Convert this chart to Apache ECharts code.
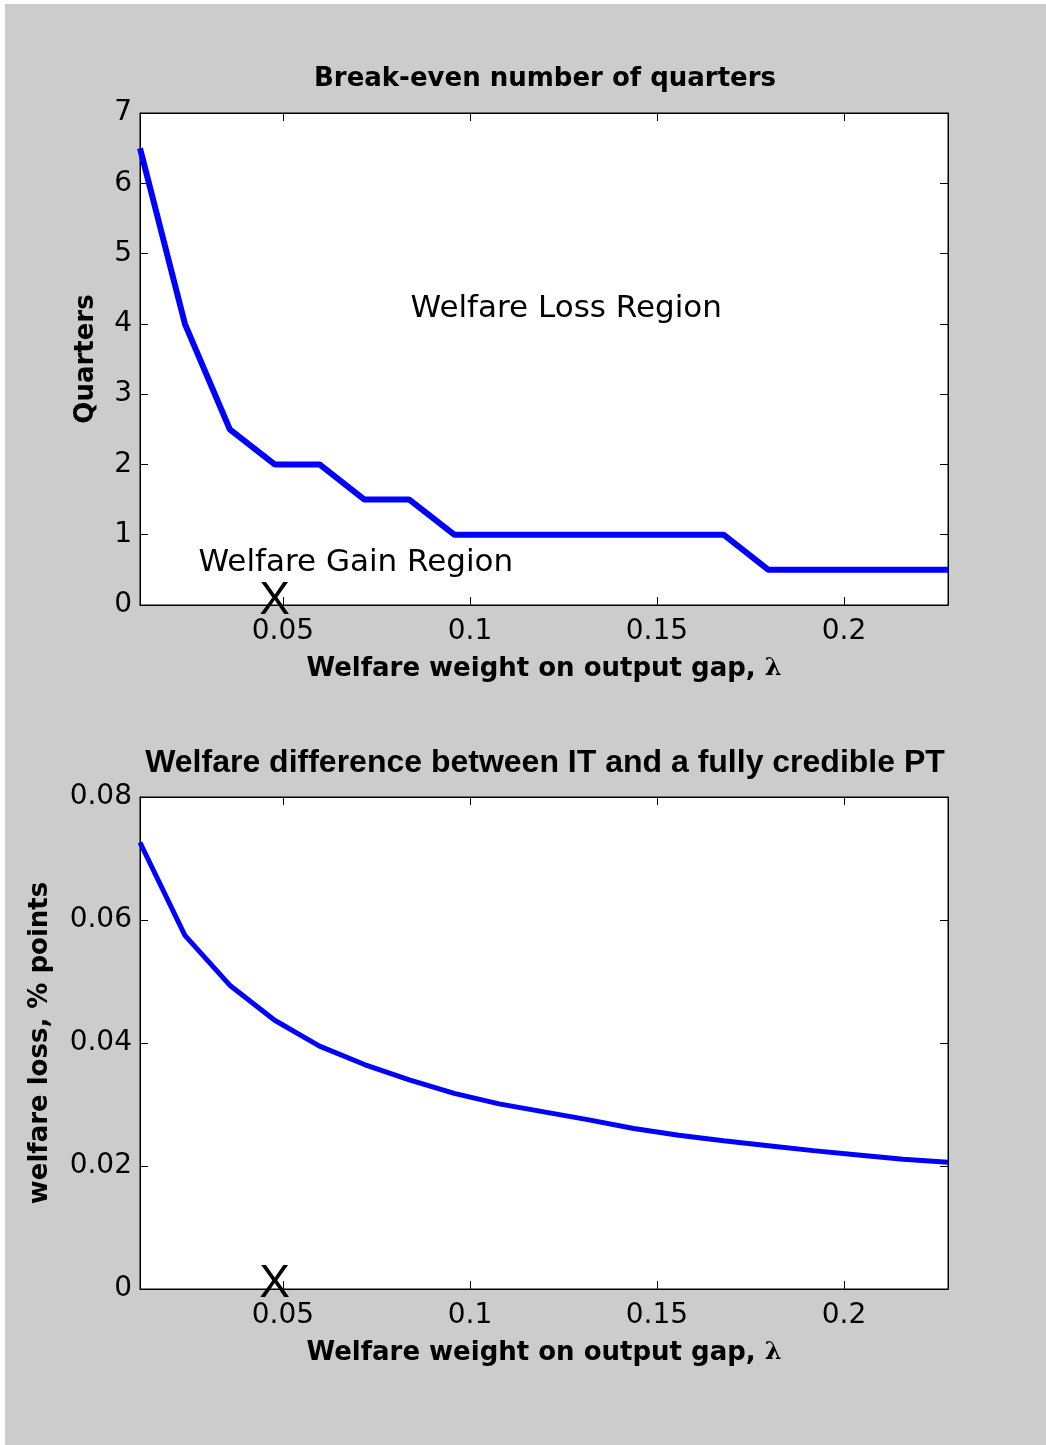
<!DOCTYPE html>
<html>
<head>
<meta charset="utf-8">
<script src="https://cdn.jsdelivr.net/npm/echarts@6/dist/echarts.min.js"></script>
<style>
html,body{margin:0;padding:0;background:#ffffff;}
#chart{width:1046px;height:1445px;}
</style>
</head>
<body>
<div id="chart"></div>
<script>
// ---- data ----
const lambda = [0.0118, 0.0238, 0.0358, 0.0478, 0.0598, 0.0718, 0.0838, 0.0958, 0.1078, 0.1198,
                0.1318, 0.1438, 0.1558, 0.1678, 0.1798, 0.1918, 0.2038, 0.2158, 0.2278];
const breakEvenQuarters = [6.5, 4, 2.5, 2, 2, 1.5, 1.5, 1, 1, 1, 1, 1, 1, 1, 0.5, 0.5, 0.5, 0.5, 0.5];
const welfareLoss = [0.0726, 0.0575, 0.0494, 0.0437, 0.0395, 0.0365, 0.0340, 0.0318, 0.0301, 0.0288,
                     0.0275, 0.0261, 0.0250, 0.0241, 0.0233, 0.0225, 0.0218, 0.0211, 0.0206];
const quarterTicks = [0, 1, 2, 3, 4, 5, 6, 7];
const lossTicks = [0, 0.02, 0.04, 0.06, 0.08];
const lambdaTicks = [0.05, 0.1, 0.15, 0.2];
const topNotes = [
  { x: 0.0840, y: 4.21, text: 'Welfare Loss Region' },
  { x: 0.0273, y: 0.60, text: 'Welfare Gain Region' }
];
const markerLambda = 0.0478; // "X" marker on the horizontal axis
const titles = ['Break-even number of quarters', 'Welfare difference between IT and a fully credible PT'];
const xName = 'Welfare weight on output gap, ';
const yNames = ['Quarters', 'welfare loss, % points'];

const xMin = lambda[0], xMax = lambda[lambda.length - 1];
const SANS = 'DejaVu Sans';
const isLambdaTick = v => lambdaTicks.some(t => Math.abs(t - v) < 1e-9);

function xAxes(gridIndex) {
  return [
    {
      type: 'value', gridIndex, min: xMin, max: xMax, position: 'bottom',
      splitNumber: 5,
      axisLine: { show: true, onZero: false, lineStyle: { color: '#000', width: 1 } },
      axisTick: { show: true, inside: true, length: 8, lineStyle: { color: '#000' } },
      axisLabel: { show: true, color: '#000', fontFamily: SANS, fontSize: 28, margin: 13,
                   showMinLabel: false, showMaxLabel: false,
                   formatter: v => isLambdaTick(v) ? String(+v.toFixed(2)) : '' },
      splitLine: { show: false },
      name: xName + '{l|λ}', nameLocation: 'middle', nameGap: 51,
      nameTextStyle: { color: '#000', fontFamily: SANS, fontWeight: 'bold', fontSize: 26,
        rich: { l: { fontFamily: 'DejaVu Serif', fontWeight: 'bold', fontSize: 24, color: '#000' } } }
    },
    {
      type: 'value', gridIndex, min: xMin, max: xMax, position: 'top',
      splitNumber: 5,
      axisLine: { show: true, onZero: false, lineStyle: { color: '#000', width: 1 } },
      axisTick: { show: true, inside: true, length: 8, lineStyle: { color: '#000' } },
      axisLabel: { show: false },
      splitLine: { show: false }
    }
  ];
}

function yAxes(gridIndex, max, interval, name, nameGap) {
  return [
    {
      type: 'value', gridIndex, min: 0, max, interval, position: 'left',
      axisLine: { show: true, onZero: false, lineStyle: { color: '#000', width: 1 } },
      axisTick: { show: true, inside: true, length: 8, lineStyle: { color: '#000' } },
      axisLabel: { show: true, color: '#000', fontFamily: SANS, fontSize: 28, margin: 8,
                   formatter: v => String(+v.toFixed(4)) },
      splitLine: { show: false },
      name, nameLocation: 'middle', nameGap,
      nameTextStyle: { color: '#000', fontFamily: SANS, fontWeight: 'bold', fontSize: 26 }
    },
    {
      type: 'value', gridIndex, min: 0, max, interval, position: 'right',
      axisLine: { show: true, onZero: false, lineStyle: { color: '#000', width: 1 } },
      axisTick: { show: true, inside: true, length: 8, lineStyle: { color: '#000' } },
      axisLabel: { show: false },
      splitLine: { show: false }
    }
  ];
}

const chart = echarts.init(document.getElementById('chart'), null, { renderer: 'canvas' });

const noteStyle = { opacity: 1, color: 'rgba(0,0,0,0)' };

const option = {
  animation: false,
  backgroundColor: '#cccccc',
  graphic: [
    { type: 'rect', left: 0, top: 0, shape: { width: 1046, height: 4 }, style: { fill: '#ffffff' }, z: -1 },
    { type: 'rect', left: 0, top: 0, shape: { width: 5, height: 1445 }, style: { fill: '#ffffff' }, z: -1 }
  ],
  title: [
    { text: titles[0], left: 545, top: 66, textAlign: 'center', padding: 0,
      textStyle: { fontFamily: SANS, fontWeight: 'bold', fontSize: 26, color: '#000' } },
    { text: titles[1], left: 545, top: 747, textAlign: 'center', padding: 0,
      textStyle: { fontFamily: 'Liberation Sans', fontWeight: 'bold', fontSize: 32, color: '#000' } }
  ],
  grid: [
    { left: 140, top: 113, width: 808, height: 492, show: true, backgroundColor: '#ffffff',
      borderColor: '#000', borderWidth: 1 },
    { left: 140, top: 797, width: 808, height: 492, show: true, backgroundColor: '#ffffff',
      borderColor: '#000', borderWidth: 1 }
  ],
  xAxis: [...xAxes(0), ...xAxes(1)],
  yAxis: [
    ...yAxes(0, quarterTicks[quarterTicks.length - 1], quarterTicks[1] - quarterTicks[0], yNames[0], 41),
    ...yAxes(1, lossTicks[lossTicks.length - 1], lossTicks[1] - lossTicks[0], yNames[1], 87)
  ],
  series: [
    {
      type: 'line', xAxisIndex: 0, yAxisIndex: 0, showSymbol: false, symbol: 'none',
      lineStyle: { color: '#0000ff', width: 6 },
      data: lambda.map((x, i) => [x, breakEvenQuarters[i]]), z: 3
    },
    {
      type: 'line', xAxisIndex: 2, yAxisIndex: 2, showSymbol: false, symbol: 'none',
      lineStyle: { color: '#0000ff', width: 5 },
      data: lambda.map((x, i) => [x, welfareLoss[i]]), z: 3
    },
    {
      type: 'scatter', xAxisIndex: 0, yAxisIndex: 0, symbolSize: 1,
      itemStyle: noteStyle, silent: true, z: 5,
      data: topNotes.map(n => ({ value: [n.x, n.y], name: n.text })),
      label: { show: true, position: 'right', distance: 0, formatter: p => p.name, opacity: 1,
               fontFamily: SANS, fontSize: 31, color: '#000' }
    },
    {
      type: 'scatter', xAxisIndex: 0, yAxisIndex: 0, symbolSize: 1,
      itemStyle: noteStyle, silent: true, z: 6,
      data: [[markerLambda, 0]],
      label: { show: true, position: 'inside', formatter: 'X', offset: [0, -4], opacity: 1,
               fontFamily: 'Liberation Sans', fontSize: 46, color: '#000' }
    },
    {
      type: 'scatter', xAxisIndex: 2, yAxisIndex: 2, symbolSize: 1,
      itemStyle: noteStyle, silent: true, z: 6,
      data: [[markerLambda, 0]],
      label: { show: true, position: 'inside', formatter: 'X', offset: [0, -5], opacity: 1,
               fontFamily: 'Liberation Sans', fontSize: 46, color: '#000' }
    }
  ]
};
chart.setOption(option);
</script>
</body>
</html>
